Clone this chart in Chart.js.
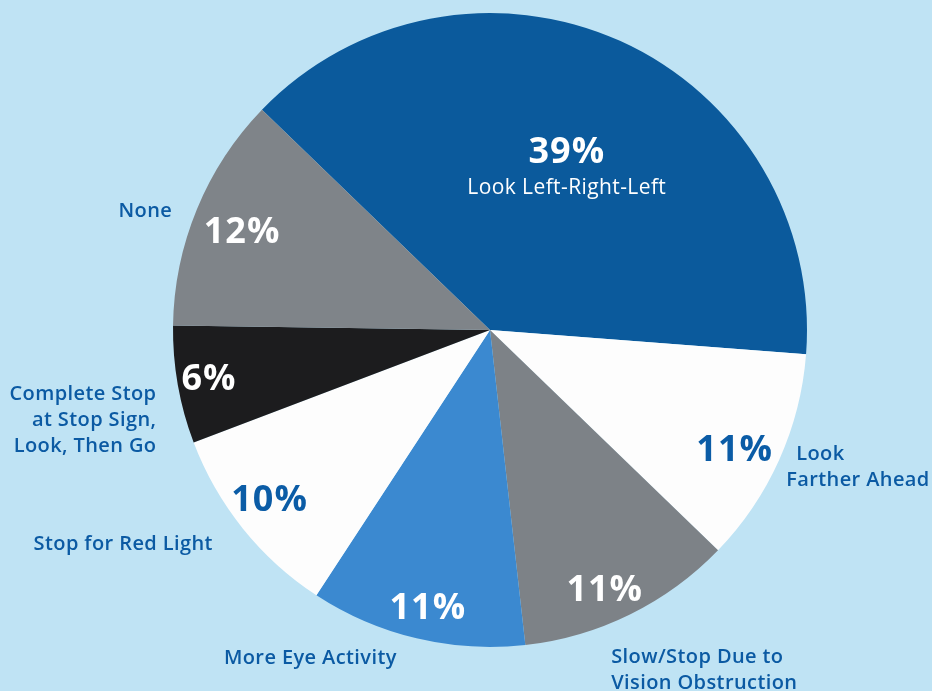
<!DOCTYPE html>
<html><head><meta charset="utf-8">
<script src="https://cdn.jsdelivr.net/npm/chart.js@4"></script>
<style>
html,body{margin:0;padding:0;background:#bfe3f4;}
#wrap{width:932px;height:691px;position:relative;}
</style>
</head><body><div id="wrap"><canvas id="c" width="932" height="691"></canvas></div>
<script>
// ---- data ----
const categories = ["Look Left-Right-Left","Look Farther Ahead","Slow/Stop Due to Vision Obstruction","More Eye Activity","Stop for Red Light","Complete Stop at Stop Sign, Look, Then Go","None"];
const labelLines = [["Look Left-Right-Left"],["Look","Farther Ahead"],["Slow/Stop Due to","Vision Obstruction"],["More Eye Activity"],["Stop for Red Light"],["Complete Stop","at Stop Sign,","Look, Then Go"],["None"]];
const values = [39,11,11,11,10,6,12];

// ---- styles / layout ----
const sliceColors = ["#0b5a9c","#fdfdfd","#7d8287","#3b89d0","#fdfdfd","#1c1c1e","#7f8489"];
const pctColors   = ["#ffffff","#0b5ca6","#ffffff","#ffffff","#0b5ca6","#ffffff","#ffffff"];
// percent label: radius fraction, angle shift (deg); name label: radius fraction, angle shift, alignment
const pctR      = [0.61, 0.86, 0.90, 0.90, 0.88, 0.90, 0.84];
const pctShift  = [-0.8, 2, 2.5, -0.8, 1, 0, -1];
const nameR     = [null, 1.03, 1.14, 1.18, 1.34, 1.09, 1.15];
const nameShift = [0, 0.7, 6.6, 15.3, 8.5, -5.1, -3.4];
const nameAlign = ["center","left","left","center","center","right","center"];
const firstLineIndent = [0, 10, 0, 0, 0, 0, 0];
const TEXT_BLUE = "#0b5aa3";

const labelPlugin = {
  id: 'sliceLabels',
  afterDatasetsDraw(chart) {
    const ctx = chart.ctx;
    const meta = chart.getDatasetMeta(0);
    const total = values.reduce((a,b)=>a+b,0);
    ctx.save();
    ctx.textBaseline = 'middle';
    meta.data.forEach((arc, i) => {
      const p = arc.getProps(['x','y','startAngle','endAngle','outerRadius'], true);
      const mid = (p.startAngle + p.endAngle) / 2;
      const r = p.outerRadius;
      // percentage
      const a1 = mid + pctShift[i] * Math.PI / 180;
      const px = p.x + Math.cos(a1) * r * pctR[i];
      const py = p.y + Math.sin(a1) * r * pctR[i];
      ctx.fillStyle = pctColors[i];
      ctx.textAlign = 'center';
      ctx.letterSpacing = '1px';
      ctx.font = 'bold 36px "Open Sans", sans-serif';
      ctx.fillText(Math.round(values[i] / total * 100) + '%', px, py);
      ctx.letterSpacing = '0.4px';
      if (nameR[i] === null) {
        ctx.font = '500 21px "Open Sans", sans-serif';
        ctx.fillText(labelLines[i][0], px, py + 35);
      } else {
        const a2 = mid + nameShift[i] * Math.PI / 180;
        const nx = p.x + Math.cos(a2) * r * nameR[i];
        const ny = p.y + Math.sin(a2) * r * nameR[i];
        ctx.fillStyle = TEXT_BLUE;
        ctx.textAlign = nameAlign[i];
        ctx.font = '600 20px "Open Sans", sans-serif';
        const lines = labelLines[i];
        const lh = 26;
        lines.forEach((ln, k) => {
          const ind = k === 0 ? firstLineIndent[i] : 0;
          ctx.fillText(ln, nx + ind, ny + (k - (lines.length - 1) / 2) * lh);
        });
      }
    });
    ctx.restore();
  }
};

new Chart(document.getElementById('c'), {
  type: 'pie',
  data: {
    labels: categories,
    datasets: [{
      data: values,
      backgroundColor: sliceColors,
      borderWidth: 0
    }]
  },
  options: {
    responsive: false,
    animation: false,
    rotation: -46,
    layout: { padding: { top: 13, bottom: 44, left: 173, right: 125 } },
    plugins: { legend: { display: false }, tooltip: { enabled: false } }
  },
  plugins: [labelPlugin]
});
</script>
</body></html>
